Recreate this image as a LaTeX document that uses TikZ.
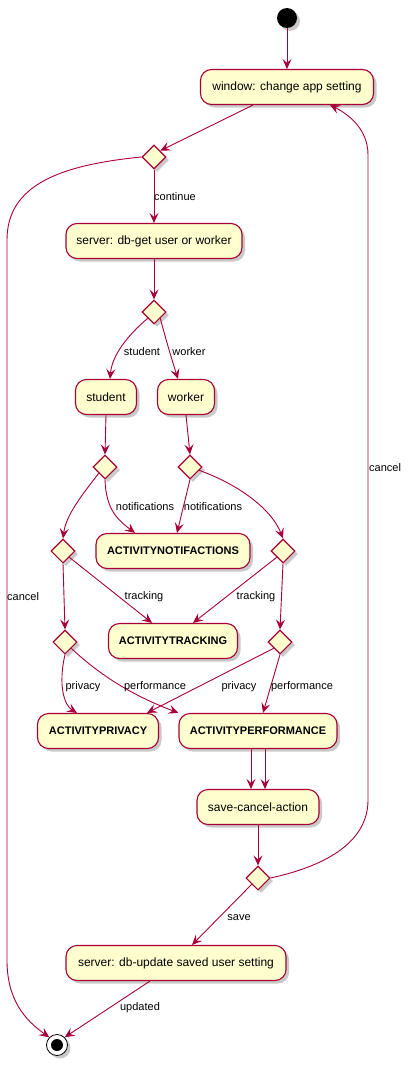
\documentclass[tikz,border=0pt]{standalone}
\usepackage{fontspec}
\setmainfont{Liberation Sans}
\usetikzlibrary{shapes.geometric, arrows.meta, shadows}

\begin{document}
\begin{tikzpicture}[
    x=1pt, y=-1pt,
    font=\fontsize{12}{14}\selectfont,
    softshadow/.style={drop shadow={shadow xshift=3pt, shadow yshift=-3pt, opacity=0.3, fill=black!70}},
    activity/.style={rectangle, rounded corners=11pt, draw=PumlRed, fill=PumlYellow, line width=1.1pt,
        minimum height=35pt, inner xsep=8pt, inner ysep=0pt, softshadow},
    bigactivity/.style={activity, font=\fontsize{11}{14}\selectfont\bfseries},
    choice/.style={diamond, draw=PumlRed, fill=PumlYellow, line width=1.1pt, minimum size=24pt, inner sep=0pt, softshadow},
    startnode/.style={circle, fill=black, minimum size=20pt, inner sep=0pt, softshadow},
    stopnode/.style={circle, draw=black, fill=white, line width=0.8pt, minimum size=21pt, inner sep=0pt, softshadow},
    flow/.style={draw=PumlRed, line width=0.9pt, -{Stealth[length=10pt, width=9pt, inset=4pt]}},
    guard/.style={font=\fontsize{11}{13}\selectfont, inner sep=1pt},
]
    \definecolor{PumlRed}{RGB}{168,0,54}
    \definecolor{PumlYellow}{RGB}{254,254,206}

    \useasboundingbox (0,0) rectangle (412,1065);

    % Start and first choice
    \node[startnode] (start) at (287,18) {};
    \node[activity, minimum width=173pt] (win) at (287,87) {window: change app setting};
    \node[choice] (d1) at (154,157) {};
    \node[activity, minimum width=176pt] (srv) at (154,241) {server: db-get user or worker};
    \node[choice] (d2) at (154,312) {};

    % Student / worker branches
    \node[activity, minimum width=61pt] (stud) at (106,397) {student};
    \node[activity, minimum width=57pt] (work) at (186,397) {worker};
    \node[choice] (d3) at (105,467) {};
    \node[choice] (d4) at (190,467) {};
    \node[choice] (d5) at (63,551) {};
    \node[choice] (d6) at (283,551) {};
    \node[choice] (d7) at (65,642) {};
    \node[choice] (d8) at (280,642) {};

    % Activities
    \node[bigactivity, minimum width=154pt] (notif) at (173,551) {ACTIVITYNOTIFACTIONS};
    \node[bigactivity, minimum width=129pt] (track) at (173,641) {ACTIVITYTRACKING};
    \node[bigactivity, minimum width=121pt] (priv) at (98,731) {ACTIVITYPRIVACY};
    \node[bigactivity, minimum width=158pt] (perf) at (258,731) {ACTIVITYPERFORMANCE};

    % Save or cancel
    \node[activity, minimum width=122pt] (sca) at (258,807) {save-cancel-action};
    \node[choice] (d9) at (258,878) {};
    \node[activity, minimum width=220pt] (upd) at (176,963) {server: db-update saved user setting};
    \node[stopnode] (stop) at (57,1045) {};
    \fill[black] (stop.center) circle (6pt);

    % Connectors
    \draw[flow] (start) -- (win);
    \draw[flow] ([xshift=-34pt]win.south) -- (d1.north east);
    \draw[flow] (d1.south) -- (srv.north);
    \draw[flow] (d1.west) .. controls (60,165) and (7,185) .. (7,240)
        -- (7,960) .. controls (7,1000) and (25,1020) .. (stop.135);
    \draw[flow] (srv.south) -- (d2.north);
    \draw[flow] (d2.south west) .. controls (128,335) and (112,355) .. ([xshift=4pt]stud.north);
    \draw[flow] (d2.south east) .. controls (166,340) and (172,360) .. ([xshift=-8pt]work.north);
    \draw[flow] (stud.south) -- (d3.north);
    \draw[flow] (work.south) -- (d4.north);
    \draw[flow] (d3.south west) .. controls (82,495) and (66,515) .. (d5.north);
    \draw[flow] (d3.south) .. controls (106,510) and (118,520) .. ([xshift=-38pt]notif.north);
    \draw[flow] (d4.south) -- ([xshift=4pt]notif.north);
    \draw[flow] (d4.-20) .. controls (240,485) and (272,510) .. (d6.north);
    \draw[flow] (d5.south) -- (d7.north);
    \draw[flow] (d5.south east) -- ([xshift=-21pt]track.north);
    \draw[flow] (d6.south west) -- ([xshift=20pt]track.north);
    \draw[flow] (d6.south) -- (d8.north);
    \draw[flow] (d7.south) .. controls (58,685) and (64,705) .. ([xshift=-21pt]priv.north);
    \draw[flow] (d7.south east) .. controls (110,685) and (150,702) .. (perf.north west);
    \draw[flow] (d8.south west) -- ([xshift=49pt]priv.north);
    \draw[flow] (d8.south) -- ([xshift=5pt]perf.north);
    \draw[flow] ([xshift=-7pt]perf.south) -- ([xshift=-7pt]sca.north);
    \draw[flow] ([xshift=7pt]perf.south) -- ([xshift=7pt]sca.north);
    \draw[flow] (sca.south) -- (d9.north);
    \draw[flow] (d9.east) .. controls (330,865) and (368,840) .. (368,800)
        -- (368,155) .. controls (368,130) and (350,115) .. ([xshift=43pt]win.south);
    \draw[flow] (d9.south west) -- ([xshift=16pt]upd.north);
    \draw[flow] ([xshift=-26pt]upd.south) -- (stop.45);

    % Guards
    \node[guard] (lcont) at (175,197) {continue};
    \node[guard, anchor=west] (lcancelA) at (6,597) {cancel};
    \node[guard, anchor=west] (lcancelB) at (368,468) {cancel};
    \node[guard] (lstud) at (142,352) {student};
    \node[guard] (lwork) at (189,352) {worker};
    \node[guard] (lnotA) at (145,507) {notifications};
    \node[guard] (lnotB) at (213,507) {notifications};
    \node[guard] (ltrkA) at (144,597) {tracking};
    \node[guard] (ltrkB) at (256,597) {tracking};
    \node[guard] (lprvA) at (83,687) {privacy};
    \node[guard] (lprfA) at (155,687) {performance};
    \node[guard] (lprvB) at (239,687) {privacy};
    \node[guard] (lprfB) at (302,687) {performance};
    \node[guard] (lsave) at (239,918) {save};
    \node[guard] (lupd) at (140,1008) {updated};
\end{tikzpicture}
\end{document}
